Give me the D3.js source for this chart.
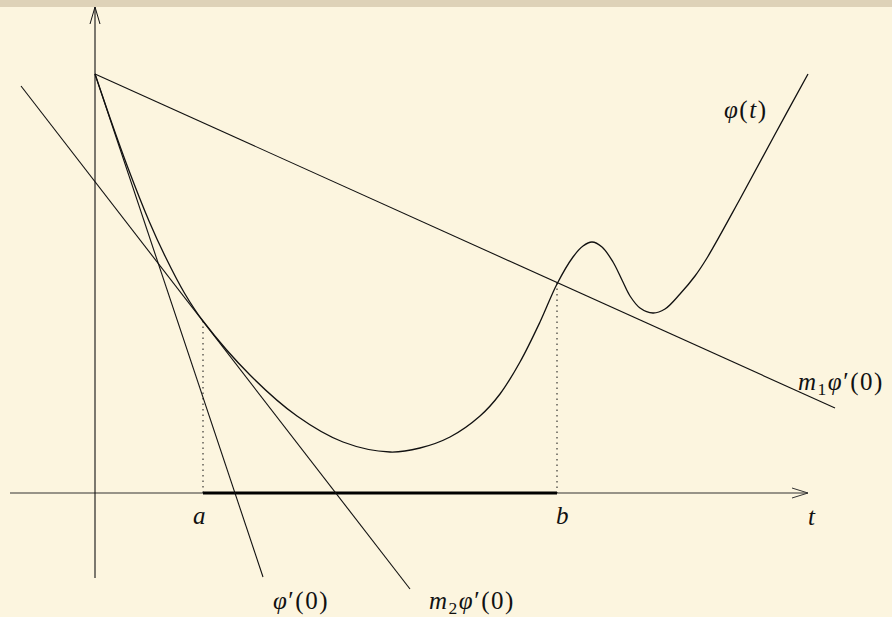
<!DOCTYPE html>
<html>
<head>
<meta charset="utf-8">
<script src="https://cdn.jsdelivr.net/npm/d3@7"></script>
<style>
  html, body { margin: 0; padding: 0; background: #fcf5df; }
  svg { display: block; }
  text { font-family: "Liberation Serif", "DejaVu Serif", serif; fill: #111; }
</style>
</head>
<body>
<div id="chart"></div>
<script>
// phi(t) (t, phi)
const curveT   = [0, 0.15, 0.33, 0.54, 0.70, 0.90, 1.08, 1.55, 2.02, 2.48, 2.95, 3.25, 3.55, 3.85, 4.05, 4.25, 4.45, 4.62, 4.78, 4.88, 4.97, 5.07, 5.18, 5.27, 5.35, 5.45, 5.58, 5.70, 5.85, 6.00, 6.12, 6.45, 6.78, 7.13];
const curvePhi = [4.19, 3.75, 3.25, 2.72, 2.37, 1.99, 1.72, 1.18, 0.77, 0.51, 0.41, 0.45, 0.56, 0.77, 0.99, 1.31, 1.71, 2.09, 2.36, 2.47, 2.51, 2.46, 2.31, 2.13, 1.97, 1.85, 1.80, 1.84, 1.99, 2.17, 2.35, 2.94, 3.55, 4.19];

// straight lines: [t0, v0, t1, v1]
const tangentLine = [0, 4.19, 1.68, -0.84];     // phi'(0)
const m1Line      = [0, 4.19, 7.40, 0.85];      // m1 phi'(0)
const m2Line      = [-0.74, 4.07, 3.15, -0.96]; // m2 phi'(0)

const a = 1.08, phiA = 1.72;
const b = 4.62, phiB = 2.10;

const width = 892, height = 617;

const x = d3.scaleLinear().domain([-0.85, 7.40]).range([10, 835]);
const y = d3.scaleLinear().domain([-0.85, 4.86]).range([578, 7]);

const svg = d3.select('#chart').append('svg')
    .attr('width', width)
    .attr('height', height);

// top band
svg.append('rect')
    .attr('width', width)
    .attr('height', 7)
    .attr('fill', '#ded2b8');

const g = svg.append('g')
    .attr('fill', 'none')
    .attr('stroke', '#111');

// axes
g.append('line')
    .attr('x1', x(-0.85)).attr('y1', y(0))
    .attr('x2', x(7.13)).attr('y2', y(0))
    .attr('stroke', '#333').attr('stroke-width', 1.1);
g.append('line')
    .attr('x1', x(0)).attr('y1', y(-0.85))
    .attr('x2', x(0)).attr('y2', y(4.86))
    .attr('stroke-width', 1.1);

// arrowheads (open, latex style)
g.append('path')
    .attr('d', `M${x(7.13) - 16},${y(0) - 5} L${x(7.13)},${y(0)} L${x(7.13) - 16},${y(0) + 5}`)
    .attr('stroke', '#333').attr('stroke-width', 1);
g.append('path')
    .attr('d', `M${x(0) - 5},${y(4.86) + 17} L${x(0)},${y(4.86)} L${x(0) + 5},${y(4.86) + 17}`)
    .attr('stroke-width', 1);

// interval [a, b]
g.append('line')
    .attr('x1', x(a)).attr('y1', y(0))
    .attr('x2', x(b)).attr('y2', y(0))
    .attr('stroke', '#000').attr('stroke-width', 3);

// dotted drops
[[a, phiA], [b, phiB]].forEach(([t, v]) => {
    g.append('line')
        .attr('x1', x(t)).attr('y1', y(v))
        .attr('x2', x(t)).attr('y2', y(0))
        .attr('stroke-width', 1)
        .attr('stroke-dasharray', '1.5,4');
});

// straight lines
[tangentLine, m1Line, m2Line].forEach(l => {
    g.append('line')
        .attr('x1', x(l[0])).attr('y1', y(l[1]))
        .attr('x2', x(l[2])).attr('y2', y(l[3]))
        .attr('stroke-width', 1.1);
});

// phi(t)
const line = d3.line()
    .x(d => x(d[0]))
    .y(d => y(d[1]))
    .curve(d3.curveCatmullRom.alpha(0.5));

g.append('path')
    .datum(curveT.map((t, i) => [t, curvePhi[i]]))
    .attr('d', line)
    .attr('stroke-width', 1.3);

// labels
const fs = 25;
function label(tx, ty, parts) {
    const t = svg.append('text')
        .attr('x', x(tx)).attr('y', y(ty))
        .attr('font-size', fs)
        .attr('letter-spacing', 1.5);
    parts.forEach(p => {
        const s = t.append('tspan').text(p.s);
        if (p.i) s.attr('font-style', 'italic');
        if (p.sub) s.attr('font-size', fs * 0.7).attr('dy', 5);
        if (p.up) s.attr('dy', -5);
    });
    return t;
}

label(6.29, 3.75, [{s: 'φ', i: 1}, {s: '('}, {s: 't', i: 1}, {s: ')'}]);
label(7.03, 1.03, [{s: 'm', i: 1}, {s: '1', sub: 1}, {s: 'φ', i: 1, up: 1}, {s: '′(0)'}]);
label(7.13, -0.32, [{s: 't', i: 1}]);
label(0.98, -0.31, [{s: 'a', i: 1}]);
label(4.61, -0.31, [{s: 'b', i: 1}]);
label(1.78, -1.16, [{s: 'φ', i: 1}, {s: '′(0)'}]);
label(3.34, -1.16, [{s: 'm', i: 1}, {s: '2', sub: 1}, {s: 'φ', i: 1, up: 1}, {s: '′(0)'}]);
</script>
</body>
</html>
